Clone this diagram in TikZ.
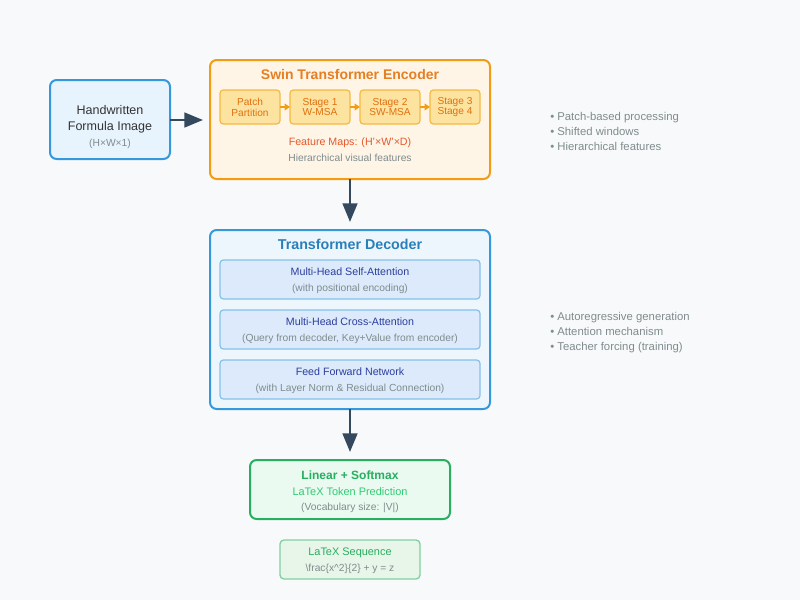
\documentclass[tikz,border=0pt]{standalone}
\usepackage{fontspec}
\setmainfont{Liberation Sans}
\usetikzlibrary{arrows.meta}
\definecolor{bg}{HTML}{F8F9FA}
\definecolor{inFill}{HTML}{E8F4FD}
\definecolor{inLine}{HTML}{3498DB}
\definecolor{encFill}{HTML}{FEF5E7}
\definecolor{encLine}{HTML}{F39C12}
\definecolor{encText}{HTML}{E67E22}
\definecolor{stFill}{HTML}{FDE3A0}
\definecolor{stLine}{HTML}{F5B942}
\definecolor{stText}{HTML}{E0700F}
\definecolor{fmText}{HTML}{E5582A}
\definecolor{decFill}{HTML}{EEF6FD}
\definecolor{decTitle}{HTML}{2980B9}
\definecolor{subFill}{HTML}{DCEAFB}
\definecolor{subLine}{HTML}{85C1E9}
\definecolor{subText}{HTML}{2C3E9E}
\definecolor{grayText}{HTML}{7F8C8D}
\definecolor{dark}{HTML}{34495E}
\definecolor{linFill}{HTML}{EAFAF1}
\definecolor{linLine}{HTML}{27AE60}
\definecolor{linText}{HTML}{2ECC71}
\definecolor{seqFill}{HTML}{E8F5E9}
\definecolor{seqLine}{HTML}{82D0A0}
\begin{document}
\begin{tikzpicture}[x=0.75pt,y=-0.75pt,
  box/.style={rounded corners=5pt,line width=1.5pt},
  sbox/.style={rounded corners=2.5pt,line width=0.9pt},
  lbl/.style={inner sep=0pt,anchor=center,text height=1.6ex,text depth=0.3ex},
  ml/.style={inner sep=0pt,anchor=center,align=center},
  small/.style={lbl,text=grayText,font=\fontsize{7.7}{9}\selectfont},
  bigarrow/.style={draw=dark,line width=2pt,-{Triangle[length=14pt,width=11pt]}},
  smallarrow/.style={draw=encLine,line width=1.2pt,-{Triangle[length=4pt,width=5pt]}},
  note/.style={lbl,anchor=west,text=grayText,font=\fontsize{8.5}{10}\selectfont}]
\fill[bg] (0,0) rectangle (800,600);
\useasboundingbox (0,0) rectangle (800,600);
% input
\draw[box,fill=inFill,draw=inLine] (50,80) rectangle (170,159);
\node[lbl,font=\fontsize{9.4}{11}\selectfont,text=black!80] (in1) at (110,110) {Handwritten};
\node[lbl,font=\fontsize{9.4}{11}\selectfont,text=black!80] (in2) at (110,126) {Formula Image};
\node[small] (in3) at (110,142) {(H×W×1)};
\coordinate (inR) at (170,120);
\coordinate (encL) at (203,120);
\draw[bigarrow] (inR) -- (encL);
% encoder
\draw[box,fill=encFill,draw=encLine] (210,60) rectangle (490,179);
\node[lbl,font=\bfseries\fontsize{10.5}{12}\selectfont,text=encText] (enct) at (350,75) {Swin Transformer Encoder};
\draw[sbox,fill=stFill,draw=stLine] (220,90) rectangle (280,124);
\draw[sbox,fill=stFill,draw=stLine] (290,90) rectangle (350,124);
\draw[sbox,fill=stFill,draw=stLine] (360,90) rectangle (420,124);
\draw[sbox,fill=stFill,draw=stLine] (430,90) rectangle (480,124);
\node[ml,font=\fontsize{7.6}{8.2}\selectfont,text=stText] (s0) at (250,107) {Patch\\Partition};
\node[ml,font=\fontsize{7.6}{8.2}\selectfont,text=stText] (s1) at (320,107) {Stage 1\\W-MSA};
\node[ml,font=\fontsize{7.6}{8.2}\selectfont,text=stText] (s2) at (390,107) {Stage 2\\SW-MSA};
\node[ml,font=\fontsize{7.6}{8.2}\selectfont,text=stText] (s3) at (455,107) {Stage 3\\Stage 4};
\coordinate (a0) at (280,107); \coordinate (b0) at (290,107);
\coordinate (a1) at (350,107); \coordinate (b1) at (360,107);
\coordinate (a2) at (420,107); \coordinate (b2) at (430,107);
\draw[smallarrow] (a0) -- (b0);
\draw[smallarrow] (a1) -- (b1);
\draw[smallarrow] (a2) -- (b2);
\node[lbl,font=\fontsize{8}{9}\selectfont,text=fmText] (fm) at (350,141) {Feature Maps: (H'×W'×D)};
\node[small] (hv) at (350,157) {Hierarchical visual features};
\coordinate (encB) at (350,179);
\coordinate (decT) at (350,222);
\draw[bigarrow] (encB) -- (decT);
% decoder
\draw[box,fill=decFill,draw=inLine] (210,230) rectangle (490,409);
\node[lbl,font=\bfseries\fontsize{10.7}{12}\selectfont,text=decTitle] (dect) at (350,245) {Transformer Decoder};
\draw[sbox,fill=subFill,draw=subLine] (220,260) rectangle (480,299);
\draw[sbox,fill=subFill,draw=subLine] (220,310) rectangle (480,349);
\draw[sbox,fill=subFill,draw=subLine] (220,360) rectangle (480,399);
\node[lbl,font=\fontsize{8}{9}\selectfont,text=subText] (d1) at (350,271) {Multi-Head Self-Attention};
\node[small] (d1s) at (350,287) {(with positional encoding)};
\node[lbl,font=\fontsize{8}{9}\selectfont,text=subText] (d2) at (350,321) {Multi-Head Cross-Attention};
\node[small] (d2s) at (350,337) {(Query from decoder, Key+Value from encoder)};
\node[lbl,font=\fontsize{8}{9}\selectfont,text=subText] (d3) at (350,371) {Feed Forward Network};
\node[small] (d3s) at (350,387) {(with Layer Norm \& Residual Connection)};
\coordinate (decB) at (350,409);
\coordinate (linT) at (350,452);
\draw[bigarrow] (decB) -- (linT);
% linear
\draw[box,fill=linFill,draw=linLine] (250,460) rectangle (450,519);
\node[lbl,font=\bfseries\fontsize{9}{10}\selectfont,text=linLine] (l1) at (350,475) {Linear + Softmax};
\node[lbl,font=\fontsize{8.2}{9}\selectfont,text=linText] (l2) at (350,491) {LaTeX Token Prediction};
\node[small] (l3) at (350,506) {(Vocabulary size: |V|)};
% sequence
\draw[box,line width=1pt,rounded corners=3pt,fill=seqFill,draw=seqLine] (280,540) rectangle (420,579);
\node[lbl,font=\fontsize{8.2}{9}\selectfont,text=linLine] (q1) at (350,551) {LaTeX Sequence};
\node[small] (q2) at (350,567) {\textbackslash frac\{x\textasciicircum 2\}\{2\} + y = z};
% notes
\node[note] (n1) at (550,116) {• Patch-based processing};
\node[note] (n2) at (550,131) {• Shifted windows};
\node[note] (n3) at (550,146) {• Hierarchical features};
\node[note] (n4) at (550,316) {• Autoregressive generation};
\node[note] (n5) at (550,331) {• Attention mechanism};
\node[note] (n6) at (550,346) {• Teacher forcing (training)};
\end{tikzpicture}
\end{document}
